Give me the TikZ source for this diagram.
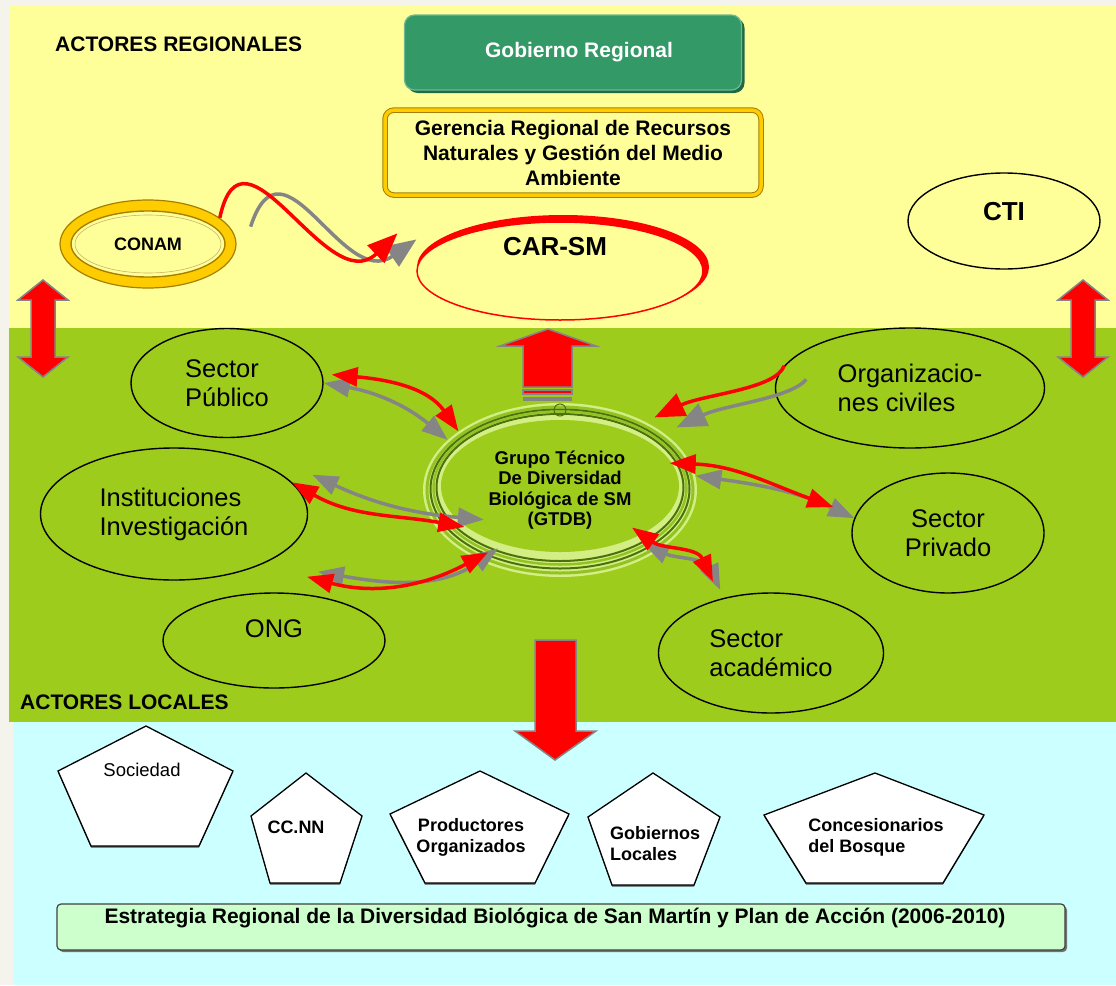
\documentclass[tikz,border=0pt]{standalone}
\usepackage{fontspec}
\setmainfont{Liberation Sans}
\usetikzlibrary{arrows.meta,positioning,shapes.geometric,shadows}
\definecolor{pagebg}{HTML}{F4F4EC}
\definecolor{regyellow}{HTML}{FFFF99}
\definecolor{locgreen}{HTML}{9ECC1C}
\definecolor{basecyan}{HTML}{CCFFFF}
\definecolor{gobgreen}{HTML}{339966}
\definecolor{gobdark}{HTML}{1F6A45}
\definecolor{ringgold}{HTML}{FFCC00}
\definecolor{ringbrown}{HTML}{A77F00}
\definecolor{ringlight}{HTML}{D2EE84}
\definecolor{ringmid}{HTML}{93C322}
\definecolor{ringdark}{HTML}{4C700C}
\definecolor{stratgreen}{HTML}{CCFFCC}
\definecolor{arrgray}{HTML}{858585}

\begin{document}
\begin{tikzpicture}[x=1pt,y=1pt,
bandtitle/.style={anchor=west,inner sep=0pt,font=\fontsize{21}{25}\selectfont\bfseries},
actorfont/.style={font=\fontsize{25.5}{29}\selectfont},
actor/.style={draw,ellipse,line width=1.4pt,inner sep=0pt,align=left,actorfont},
gobbox/.style={draw=gobgreen!70!white,fill=gobgreen,rounded corners=10pt,line width=1.2pt,text=white,
  font=\fontsize{21}{25}\selectfont\bfseries,minimum width=337,minimum height=75,
  drop shadow={shadow xshift=3pt,shadow yshift=-3pt,fill=gobdark,opacity=1}},
gerbox/.style={draw=ringbrown,double=ringgold,double distance=3.5pt,line width=1pt,fill=regyellow,rounded corners=9pt,
  align=center,font=\fontsize{21}{25}\selectfont\bfseries,minimum width=376,minimum height=85},
ringnode/.style={ellipse,inner sep=0pt,fill=ringgold,draw=ringbrown,line width=1.2pt,font=\fontsize{18}{20}\selectfont\bfseries,
  path picture={
    \draw[ringbrown,line width=1.4pt,fill=regyellow] (path picture bounding box.center) ellipse [x radius=77,y radius=33];
    \draw[ringbrown!60,line width=.6pt] (path picture bounding box.center) ellipse [x radius=73,y radius=29];}},
gtdbring/.style={ellipse,inner sep=0pt,fill=ringlight,align=center,font=\fontsize{18.5}{20.5}\selectfont\bfseries,
  path picture={
    \foreach \rx/\ry/\dy/\col/\lw in {133/83/0/ringmid/3,129.5/79.5/1/ringdark/2,126.5/76.5/2/ringmid/2.5,123.5/73.5/2.5/ringdark/2,120.5/70.5/3/ringlight/2.4}
      \draw[\col,line width=\lw pt] ([yshift=\dy]path picture bounding box.center) ellipse [x radius=\rx,y radius=\ry];
    \fill[locgreen] ([yshift=4]path picture bounding box.center) ellipse [x radius=119,y radius=66];
    \draw[ringdark,line width=1pt] ([yshift=80]path picture bounding box.center) circle [radius=6];}},
blockarr/.style={fill=red,draw=arrgray,line width=1.5pt,line join=miter},
redarr/.style={draw=red,line width=3.5pt},
grayarr/.style={draw=arrgray,line width=3.5pt},
onehead/.style={-{Triangle[length=30pt,width=24pt]}},
twohead/.style={{Triangle[length=26pt,width=19pt]}-{Triangle[length=26pt,width=19pt]}},
pentshape/.style={draw=black,fill=white,line width=1.3pt,
  drop shadow={shadow xshift=0pt,shadow yshift=-1.5pt,fill=black!70,opacity=1}},
pentlabel/.style={inner sep=0pt,align=left,font=\fontsize{18}{21}\selectfont\bfseries},
stratbox/.style={draw=black!75,fill=stratgreen,rounded corners=4pt,line width=1.2pt,minimum width=1008,minimum height=46,
  drop shadow={shadow xshift=2pt,shadow yshift=-2pt,fill=black!55,opacity=1}}]
\useasboundingbox (0,0) rectangle (1116,-985);
\fill[pagebg] (0,0) rectangle (1116,-985);
\fill[regyellow] (9,-5) rectangle (1116,-328);
\fill[locgreen] (9,-328) rectangle (1116,-722);
\fill[basecyan] (13,-722) rectangle (1116,-985);

\node[bandtitle] (regtitle) at (55,-44) {ACTORES REGIONALES};
\node[bandtitle] (loctitle) at (20,-702) {ACTORES LOCALES};

\node[gobbox] (gob) at (573,-52.5) {\hspace{12pt}Gobierno Regional};
\node[gerbox,below=19pt of gob] (ger) {Gerencia Regional de Recursos\\Naturales y Gestión del Medio\\Ambiente};
\node[ringnode,minimum width=176,minimum height=88] (conam) at (148,-244) {CONAM};
\fill[red] (563,-267) ellipse [x radius=146,y radius=52];
\node[ellipse,draw=red,line width=1.5pt,fill=regyellow,inner sep=0pt,minimum width=286,minimum height=98,
  label={[font=\fontsize{26}{30}\selectfont\bfseries,xshift=-5,yshift=24]center:CAR-SM}] (carsm) at (560,-271) {};
\node[ellipse,draw,line width=1.4pt,inner sep=0pt,minimum width=192,minimum height=96,
  label={[font=\fontsize{26}{30}\selectfont\bfseries,yshift=9]center:CTI}] (cti) at (1004,-221) {};

\draw[blockarr] (43,-280) -- (68,-300) -- (55,-300) -- (55,-357) -- (68,-357) -- (43,-377) -- (18,-357) -- (31,-357) -- (31,-300) -- (18,-300) -- cycle;
\draw[blockarr] (1083,-280) -- (1108,-300) -- (1095,-300) -- (1095,-357) -- (1108,-357) -- (1083,-377) -- (1058,-357) -- (1071,-357) -- (1071,-300) -- (1058,-300) -- cycle;
\draw[blockarr] (548,-329) -- (596,-346) -- (572,-346) -- (572,-387) -- (523,-387) -- (523,-346) -- (500,-346) -- cycle;
\draw[blockarr] (523,-390) rectangle (572,-394);
\fill[arrgray] (523,-396.5) rectangle (572,-401);
\draw[blockarr] (535,-640) -- (576,-640) -- (576,-731) -- (596,-731) -- (555,-760) -- (515,-731) -- (535,-731) -- cycle;

\node[actor,minimum width=192,minimum height=109] (sp) at (227,-383) {Sector\\Público};
\node[actor,minimum width=267,minimum height=132] (ii) at (174,-514) {Instituciones\\Investigación};
\node[actor,minimum width=222,minimum height=95,label={[actorfont,yshift=12]center:ONG}] (ong) at (274,-640.5) {};
\node[gtdbring,minimum width=274,minimum height=174] (gtdb) at (560,-490) {Grupo Técnico\\De Diversidad\\Biológica de SM\\(GTDB)};
\node[actor,minimum width=269,minimum height=120] (org) at (910,-388) {Organizacio-\\nes civiles};
\node[actor,align=center,minimum width=192,minimum height=120] (sprv) at (948,-533) {Sector\\Privado};
\node[actor,minimum width=225,minimum height=120] (sac) at (771,-653) {Sector\\académico};

\draw[grayarr,onehead] ([xshift=21]conam.12) to[out=72,in=215,out distance=105,in distance=90] ([shift={(-24,4)}]carsm.167);
\draw[redarr,onehead] (conam.20) to[out=78,in=224,out distance=112,in distance=97] ([shift={(-43,10)}]carsm.167);
\draw[grayarr,twohead] (sp.0) to[out=-10,in=140] (gtdb.156);
\draw[redarr,twohead] ([xshift=9]sp.5) to[out=-5,in=125] (gtdb.150);
\draw[grayarr,twohead] ([shift={(22,6)}]ii.16) to[out=-25,in=175] ([shift={(54,-2)}]gtdb.192);
\draw[redarr,twohead] (ii.15) to[out=-30,in=170] ([shift={(32,-5)}]gtdb.194);
\draw[grayarr,twohead] ([shift={(17,22)}]ong.60) to[out=-10,in=-145] ([shift={(19,12)}]gtdb.221);
\draw[redarr,twohead] ([shift={(6,17)}]ong.60) to[out=-15,in=-152] ([shift={(9,8)}]gtdb.221);
\draw[grayarr,onehead] ([shift={(29,-3)}]org.175) to[out=-130,in=25,out distance=25] ([shift={(15,4)}]gtdb.30);
\draw[redarr,onehead] (org.170) to[out=-110,in=25,out distance=25] ([shift={(8,5)}]gtdb.38);
\draw[grayarr,twohead] (gtdb.6) to[out=-8,in=155] (sprv.171);
\draw[redarr,twohead] ([shift={(-18,-5)}]gtdb.14) to[out=-2,in=160] ([shift={(-24,5)}]sprv.167);
\draw[grayarr,twohead] ([shift={(-13,9)}]gtdb.327) to[out=-25,in=115] ([shift={(-7,7)}]sac.128);
\draw[redarr,twohead] ([shift={(-35,17)}]gtdb.333) to[out=-35,in=115] ([shift={(-13,16)}]sac.129);

\draw[pentshape] (146,-726) -- (233,-771) -- (199,-846) -- (91,-846) -- (58,-771) -- cycle;
\draw[pentshape] (306,-773) -- (362,-816) -- (340,-883) -- (270,-883) -- (251,-816) -- cycle;
\draw[pentshape] (480,-771) -- (569,-814) -- (535,-883) -- (425,-883) -- (390,-814) -- cycle;
\draw[pentshape] (653,-773) -- (720,-817) -- (694,-885) -- (612,-885) -- (588,-817) -- cycle;
\draw[pentshape] (875,-773) -- (984,-815) -- (943,-883) -- (806,-883) -- (764,-815) -- cycle;
\node[pentlabel,font=\fontsize{18.5}{21}\selectfont] (soc) at (142,-770) {Sociedad};
\node[pentlabel] (ccnn) at (296,-827) {CC.NN};
\node[pentlabel,align=center] (prod) at (471,-837) {Productores\\Organizados};
\node[pentlabel] (gobl) at (655,-843.5) {Gobiernos\\Locales};
\node[pentlabel] (conc) at (876,-837.5) {Concesionarios\\del Bosque};

\node[stratbox,label={[font=\fontsize{21}{24}\selectfont\bfseries,xshift=-6,yshift=9]center:Estrategia Regional de la Diversidad Biológica de San Martín y Plan de Acción (2006-2010)}] (erdb) at (561,-927) {};
\end{tikzpicture}
\end{document}
